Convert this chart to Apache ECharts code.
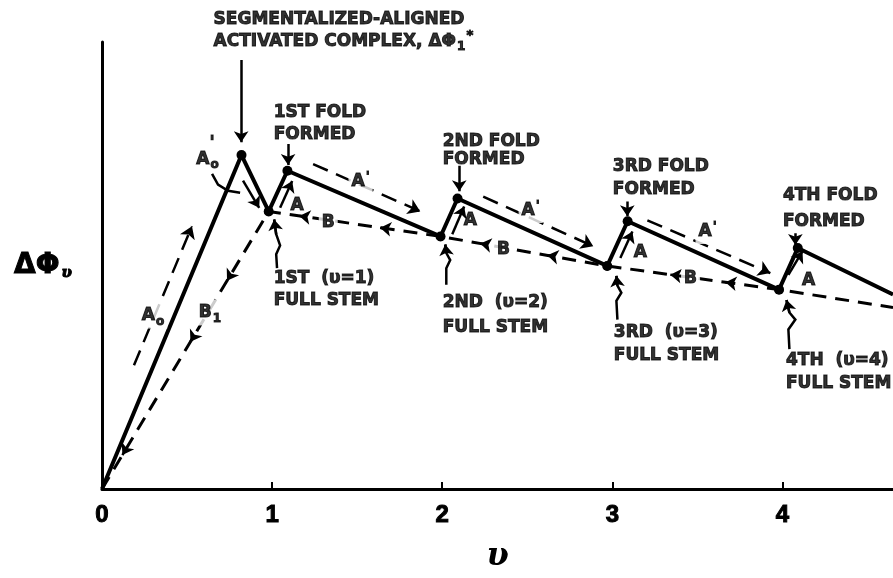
<!DOCTYPE html>
<html>
<head>
<meta charset="utf-8">
<script src="https://cdn.jsdelivr.net/npm/echarts@6/dist/echarts.min.js"></script>
<style>
  html, body { margin: 0; padding: 0; background: #fff; }
  #chart { width: 893px; height: 578px; }
</style>
</head>
<body>
<div id="chart"></div>
<script>
// Free energy ΔΦ_υ of a folding chain against the number of full stems υ.

const xTicks = [0, 1, 2, 3, 4];

// Solid path: activated complex, then alternating full stem / fold formed.
const foldPath = [
  [0, 0], [0.82, 74.7], [0.98, 62.1], [1.09, 71.2], [1.99, 56.5], [2.09, 65.0],
  [2.97, 49.9], [3.09, 59.9], [3.98, 44.6], [4.09, 53.9], [4.65, 43.5]
];

// Dashed path through the full-stem states.
const stemPath = [
  [0, 0], [0.98, 62.1], [1.99, 56.5], [2.97, 49.9], [3.98, 44.6], [4.65, 40.6]
];

// Left-aligned caption lines [x, y, text].
const captions = [
  [0.653, 105.1, 'SEGMENTALIZED-ALIGNED'],
  [0.653, 100.2, 'ACTIVATED COMPLEX, ΔΦ{sub|1}{sup|*}'],
  [1.006, 84.3, '1ST FOLD'], [1.006, 79.4, 'FORMED'],
  [2.0, 77.8, '2ND FOLD'], [2.0, 73.8, 'FORMED'],
  [3.0, 72.1, '3RD FOLD'], [3.0, 67.0, 'FORMED'],
  [4.0, 65.6, '4TH FOLD'], [4.0, 59.9, 'FORMED'],
  [1.006, 47.0, '1ST  (υ=1)'], [1.006, 42.1, 'FULL STEM'],
  [2.0, 41.7, '2ND  (υ=2)'], [2.0, 36.1, 'FULL STEM'],
  [3.006, 35.0, '3RD  (υ=3)'], [3.006, 29.9, 'FULL STEM'],
  [4.018, 28.8, '4TH  (υ=4)'], [4.018, 23.5, 'FULL STEM']
];

// Path letters sitting on a line (white backing) [x, y, text].
const pathLetters = [
  [0.30, 38.8, 'A{sub|o}'], [0.635, 39.5, 'B{sub|1}'],
  [1.52, 68.7, "A{sup|'}"], [2.52, 62.3, "A{sup|'}"], [3.56, 57.6, "A{sup|'}"],
  [1.33, 59.6, 'B'], [2.36, 53.6, 'B'], [3.46, 47.0, 'B']
];

// Free-standing letters [x, y, text].
const freeLetters = [
  [0.62, 73.8, 'A{sub|o}'], [0.647, 77.3, "'"],
  [1.147, 63.4, 'A'], [2.165, 60.1, 'A'], [3.165, 52.8, 'A'], [4.153, 46.6, 'A']
];

// Straight solid pointer arrows [tail, head].
const pointerArrows = [
  [[0.818, 96.0], [0.818, 77.6]],
  [[1.094, 77.2], [1.094, 72.5]],
  [[2.10, 72.3], [2.10, 66.6]],
  [[3.088, 64.3], [3.088, 61.0]],
  [[4.076, 57.2], [4.076, 54.6]],
  [[0.829, 69.0], [0.924, 62.9]],
  [[1.047, 62.9], [1.118, 68.9]],
  [[2.059, 57.0], [2.129, 63.2]],
  [[3.047, 51.7], [3.118, 57.6]],
  [[4.035, 47.9], [4.118, 53.2]]
];

// Wavy leads from the full-stem captions; the last leg carries the head.
const wavyLeads = [
  [[1.029, 49.4], [1.024, 52.5], [1.047, 54.5], [1.024, 57.0], [1.012, 60.3]],
  [[2.024, 45.7], [2.024, 49.4], [2.047, 51.2], [2.024, 52.8], [2.018, 54.7]],
  [[3.03, 37.9], [3.024, 42.1], [3.053, 43.9], [3.03, 45.5], [3.024, 47.7]],
  [[4.041, 31.3], [4.035, 35.7], [4.076, 37.9], [4.041, 39.5], [4.024, 42.3]]
];

// Curved lead from the A'o letter.
const leadCurve = [[0.647, 70.5], [0.682, 68.1], [0.741, 66.7], [0.812, 66.3]];

// Dashed direction arrows [tail, head].
const dashedArrows = [
  [[0.188, 27.7], [0.529, 58.8]],
  [[1.241, 72.7], [1.871, 62.1]],
  [[2.241, 65.4], [2.888, 54.3]],
  [[3.206, 60.1], [3.929, 48.3]]
];

// Arrowheads along the dashed full-stem path [tail, head].
const stemHeads = [
  [[0.755, 47.8], [0.735, 46.6]],
  [[0.54, 34.2], [0.52, 32.95]],
  [[0.14, 8.9], [0.12, 7.6]],
  [[1.19, 60.94], [1.16, 61.1]],
  [[1.665, 58.3], [1.635, 58.47]],
  [[2.254, 54.72], [2.224, 54.92]],
  [[2.648, 52.07], [2.618, 52.27]],
  [[3.371, 47.8], [3.341, 47.95]],
  [[3.695, 46.1], [3.665, 46.25]]
];

const INK = '#000';
const FONT = '"DejaVu Sans", "Liberation Sans", sans-serif';
const HEAVY = { textBorderColor: INK, textBorderWidth: 1 };
const rich = {
  sub: Object.assign({ fontSize: 12, fontWeight: 'bold', fontFamily: FONT, color: INK, padding: [12, 0, 0, 1] }, HEAVY),
  sup: Object.assign({ fontSize: 13, fontWeight: 'bold', fontFamily: FONT, color: INK, padding: [0, 0, 10, 1] }, HEAVY)
};

function textSeries(rows, opts) {
  return {
    type: 'scatter',
    clip: false,
    silent: true,
    symbolSize: 1,
    itemStyle: { color: 'rgba(0,0,0,0)' },
    z: opts.z || 5,
    data: rows.map(r => ({ value: [r[0], r[1]], name: r[2] })),
    label: Object.assign({
      show: true,
      formatter: p => p.name,
      color: INK,
      fontFamily: FONT,
      fontWeight: 'bold',
      fontSize: 17,
      rich: rich
    }, HEAVY, opts.label)
  };
}

function linesSeries(list, lineStyle, withHead, headSize, polyline) {
  return {
    type: 'lines',
    coordinateSystem: 'cartesian2d',
    polyline: !!polyline,
    silent: true,
    symbol: withHead ? ['none', 'arrow'] : 'none',
    symbolSize: headSize || 10,
    z: 4,
    lineStyle: Object.assign({ color: INK, opacity: 1, curveness: 0 }, lineStyle),
    data: list.map(c => ({ coords: c }))
  };
}

const chart = echarts.init(document.getElementById('chart'), null, { renderer: 'canvas' });

chart.setOption({
  backgroundColor: '#fff',
  animation: false,
  grid: { left: 102, right: 0, top: 42, bottom: 85, containLabel: false },
  xAxis: {
    type: 'value',
    min: 0,
    max: 4.65,
    interval: 1,
    name: 'υ',
    nameLocation: 'middle',
    nameGap: 52,
    nameTextStyle: { fontFamily: '"DejaVu Serif", serif', fontStyle: 'italic', fontWeight: 'bold', fontSize: 32, color: INK },
    axisLine: { lineStyle: { color: INK, width: 3 } },
    axisTick: { inside: true, length: 7, lineStyle: { color: INK, width: 2 } },
    axisLabel: {
      showMaxLabel: false,
      margin: 14,
      color: INK,
      fontFamily: '"Liberation Sans", sans-serif',
      fontWeight: 'bold',
      fontSize: 24,
      textBorderColor: INK,
      textBorderWidth: 1,
      formatter: v => (xTicks.indexOf(v) >= 0 ? String(v) : '')
    },
    splitLine: { show: false }
  },
  yAxis: {
    type: 'value',
    min: 0,
    max: 100,
    name: 'ΔΦ{s|υ}',
    nameLocation: 'middle',
    nameRotate: 0,
    nameGap: 30,
    nameTextStyle: {
      fontFamily: '"DejaVu Sans", sans-serif', fontWeight: 'bold', fontSize: 28, color: INK, align: 'right',
      textBorderColor: INK, textBorderWidth: 1,
      rich: { s: { fontFamily: '"DejaVu Serif", serif', fontStyle: 'italic', fontWeight: 'bold', fontSize: 15, color: INK, padding: [16, 0, 0, 2] } }
    },
    axisLine: { show: true, lineStyle: { color: INK, width: 3 } },
    axisTick: { show: false },
    axisLabel: { show: false },
    splitLine: { show: false }
  },
  series: [
    {
      type: 'line',
      silent: true,
      z: 3,
      data: stemPath.map((p, i) => ({ value: p, symbol: i === 0 || i === stemPath.length - 1 ? 'none' : 'circle' })),
      symbolSize: 9,
      itemStyle: { color: INK },
      lineStyle: { color: INK, width: 3, type: [14, 9] }
    },
    {
      type: 'line',
      silent: true,
      z: 3,
      data: foldPath.map((p, i) => ({ value: p, symbol: i === 0 || i === foldPath.length - 1 ? 'none' : 'circle' })),
      symbolSize: 10,
      itemStyle: { color: INK },
      lineStyle: { color: INK, width: 4 }
    },
    linesSeries(pointerArrows, { width: 2.5 }, true, 11),
    linesSeries(wavyLeads, { width: 2.5 }, false, 0, true),
    linesSeries(wavyLeads.map(w => w.slice(-2)), { width: 2.5 }, true, 11),
    linesSeries(dashedArrows, { width: 2.5, type: [16, 9] }, true, 12),
    linesSeries(stemHeads, { width: 2.5 }, true, 11),
    linesSeries([leadCurve], { width: 2.5 }, false, 0, true),
    textSeries(captions, { label: { position: 'right', distance: 0, align: 'left', verticalAlign: 'middle' } }),
    textSeries(pathLetters, { z: 6, label: { position: 'inside', fontSize: 17, backgroundColor: '#fff', padding: [1, 3] } }),
    textSeries(freeLetters, { label: { position: 'inside', fontSize: 17 } })
  ]
});
</script>
</body>
</html>
